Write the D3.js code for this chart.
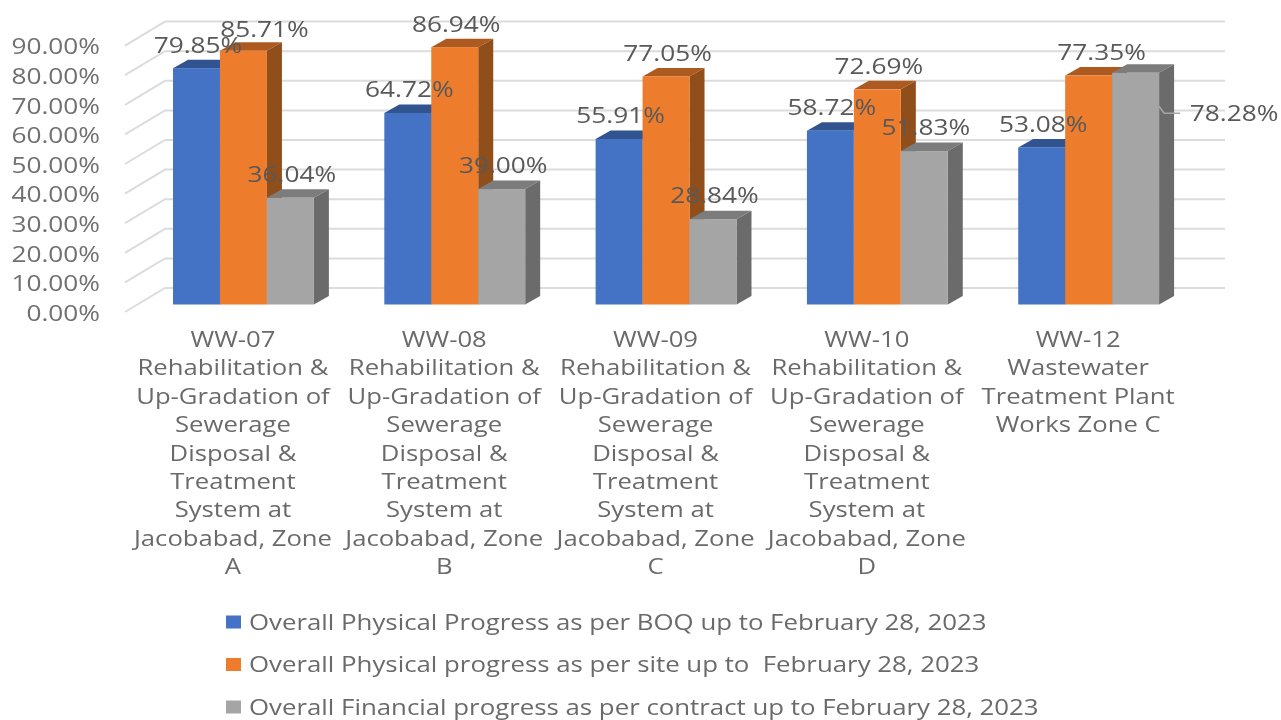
<!doctype html>
<html>
  <head>
    <meta charset="utf-8">
    <title>Progress Chart</title>
    <script src="https://d3js.org/d3.v7.min.js"></script>
    <style>
      body { margin: 0; background: #fff; }
      svg { display: block; filter: blur(0.5px); }
      text { font-family: "Open Sans", sans-serif; }
    </style>
  </head>
  <body>
    <script>
      const categories = ['WW-07', 'WW-08', 'WW-09', 'WW-10', 'WW-12'];
      const categoryLines = [
        ['WW-07', 'Rehabilitation &', 'Up-Gradation of', 'Sewerage', 'Disposal &', 'Treatment', 'System at', 'Jacobabad, Zone', 'A'],
        ['WW-08', 'Rehabilitation &', 'Up-Gradation of', 'Sewerage', 'Disposal &', 'Treatment', 'System at', 'Jacobabad, Zone', 'B'],
        ['WW-09', 'Rehabilitation &', 'Up-Gradation of', 'Sewerage', 'Disposal &', 'Treatment', 'System at', 'Jacobabad, Zone', 'C'],
        ['WW-10', 'Rehabilitation &', 'Up-Gradation of', 'Sewerage', 'Disposal &', 'Treatment', 'System at', 'Jacobabad, Zone', 'D'],
        ['WW-12', 'Wastewater', 'Treatment Plant', 'Works Zone C']
      ];
      const seriesNames = [
        'Overall Physical Progress as per BOQ up to February 28, 2023',
        'Overall Physical progress as per site up to  February 28, 2023',
        'Overall Financial progress as per contract up to February 28, 2023'
      ];
      const physicalBoq = [79.85, 64.72, 55.91, 58.72, 53.08];
      const physicalSite = [85.71, 86.94, 77.05, 72.69, 77.35];
      const financial = [36.04, 39.00, 28.84, 51.83, 78.28];
      const yTicks = [0, 10, 20, 30, 40, 50, 60, 70, 80, 90];

      const seriesValues = [physicalBoq, physicalSite, financial];
      const frontColors = ['#4472c4', '#ed7d2d', '#a5a5a5'];
      const topColors = ['#31538f', '#ad5a20', '#7c7c7c'];
      const sideColors = ['#2c4a80', '#8f4e1a', '#6b6b6b'];

      const svgWidth = 1281;
      const svgHeight = 720;
      const depthX = 15;
      const depthY = 8.5;
      // the original picture was stretched sideways, so the text is too
      const stretch = 1.25;
      const stretchWide = 1.222;
      const stretchLegend = 1.23;

      const svg = d3.select('body').append('svg')
          .attr('width', svgWidth)
          .attr('height', svgHeight);

      const x0 = d3.scaleBand()
          .domain(categories)
          .range([137.8, 1194.3])
          .paddingInner(1 / 3)
          .paddingOuter(1 / 6);
      const x1 = d3.scaleBand()
          .domain(d3.range(3))
          .range([0, x0.bandwidth()]);
      const yScale = d3.scaleLinear()
          .domain([0, 90])
          .range([304.5, 38.1]);

      // back wall and floor grid lines
      const wallY = v => yScale(v) - 16.5;
      const floorY = v => yScale(v) + 7.5;
      svg.append('g')
          .attr('fill', 'none')
          .attr('stroke', '#dcdcdc')
          .attr('stroke-width', 2)
        .selectAll('path')
        .data(yTicks)
        .enter().append('path')
          .attr('d', d => `M125,${floorY(d)}L165,${wallY(d)}H1225`);

      // y axis
      const yAxis = d3.axisLeft(yScale)
          .tickValues(yTicks)
          .tickSize(0)
          .tickPadding(0)
          .tickFormat(d => d3.format('.2f')(d) + '%');
      svg.append('g')
          .attr('transform', 'translate(100, 9)')
          .call(yAxis)
          .call(g => g.select('.domain').remove())
        .selectAll('text')
          .attr('font-size', 21)
          .attr('fill', '#707070')
          .attr('x', 0)
          .attr('transform', `scale(${stretch}, 1)`);

      // bars, drawn left to right so that each front covers the previous side
      const groups = svg.append('g').selectAll('g')
        .data(categories)
        .enter().append('g')
          .attr('transform', d => `translate(${x0(d)}, 0)`);

      const bars = groups.selectAll('g')
        .data((d, i) => seriesValues.map((s, k) => ({k, v: s[i]})))
        .enter().append('g');

      const w = x1.bandwidth();
      bars.append('path')
          .attr('fill', d => topColors[d.k])
          .attr('d', d => {
            const l = x1(d.k), t = yScale(d.v);
            return `M${l},${t}l${depthX},${-depthY}h${w}l${-depthX},${depthY}Z`;
          });
      bars.append('path')
          .attr('fill', d => sideColors[d.k])
          .attr('d', d => {
            const r = x1(d.k) + w, t = yScale(d.v), b = yScale(0);
            return `M${r},${t}l${depthX},${-depthY}V${b - depthY}l${-depthX},${depthY}Z`;
          });
      bars.append('rect')
          .attr('fill', d => frontColors[d.k])
          .attr('x', d => x1(d.k))
          .attr('y', d => yScale(d.v))
          .attr('width', w)
          .attr('height', d => yScale(0) - yScale(d.v));

      // data labels; most sit above the bar, these were moved in the original
      const labelShift = {'85.71': 21, '77.35': 13, '78.28': 98.5};
      const labelRise = {'85.71': 21, '78.28': -41};
      const labels = svg.append('g')
          .attr('font-size', 21)
          .attr('fill', '#595959')
          .attr('text-anchor', 'middle');
      categories.forEach((c, i) => {
        seriesValues.forEach((s, k) => {
          const key = s[i].toFixed(2);
          const dx = labelShift[key] === undefined ? 1.5 : labelShift[key];
          const rise = labelRise[key] === undefined ? 23 : labelRise[key];
          const lx = x0(c) + x1(k) + w / 2 + dx;
          labels.append('text')
              .attr('transform', `translate(${lx}, ${yScale(s[i]) - rise}) scale(${stretch}, 1)`)
              .attr('dy', '0.35em')
              .text(key + '%');
        });
      });

      // leader line of the last label
      const lastTop = yScale(financial[4]);
      const lastRight = x0(categories[4]) + x1(2) + w;
      svg.append('path')
          .attr('fill', 'none')
          .attr('stroke', '#a6a6a6')
          .attr('stroke-width', 1.5)
          .attr('d', `M${lastRight},${lastTop + 33.5}l5,7h16`);

      // category labels
      const xAxis = d3.axisBottom(x0).tickSize(0).tickFormat('');
      const gx = svg.append('g')
          .attr('transform', 'translate(-10.5, 332)')
          .call(xAxis)
          .call(g => g.select('.domain').remove());
      gx.selectAll('.tick text')
          .attr('font-size', 21)
          .attr('fill', '#6a6a6a')
          .attr('y', 0)
          .attr('dy', 0)
          .attr('transform', `scale(${stretchWide}, 1)`)
        .each(function(d, i) {
          d3.select(this).selectAll('tspan')
            .data(categoryLines[i])
            .enter().append('tspan')
              .attr('x', 0)
              .attr('y', (t, j) => 15 + j * 28.4)
              .text(t => t);
        });

      // legend
      const legendY = d3.scalePoint()
          .domain(d3.range(3))
          .range([622.5, 707.5]);
      const legend = svg.append('g').selectAll('g')
        .data(seriesNames)
        .enter().append('g')
          .attr('transform', (d, i) => `translate(226, ${legendY(i)})`);
      legend.append('rect')
          .attr('y', -7)
          .attr('width', 15)
          .attr('height', 13)
          .attr('fill', (d, i) => frontColors[i]);
      legend.append('text')
          .attr('transform', `translate(23, 0) scale(${stretchLegend}, 1)`)
          .attr('dy', '0.35em')
          .attr('font-size', 21)
          .attr('fill', '#6a6a6a')
          .style('white-space', 'pre')
          .text(d => d);
    </script>
  </body>
</html>
